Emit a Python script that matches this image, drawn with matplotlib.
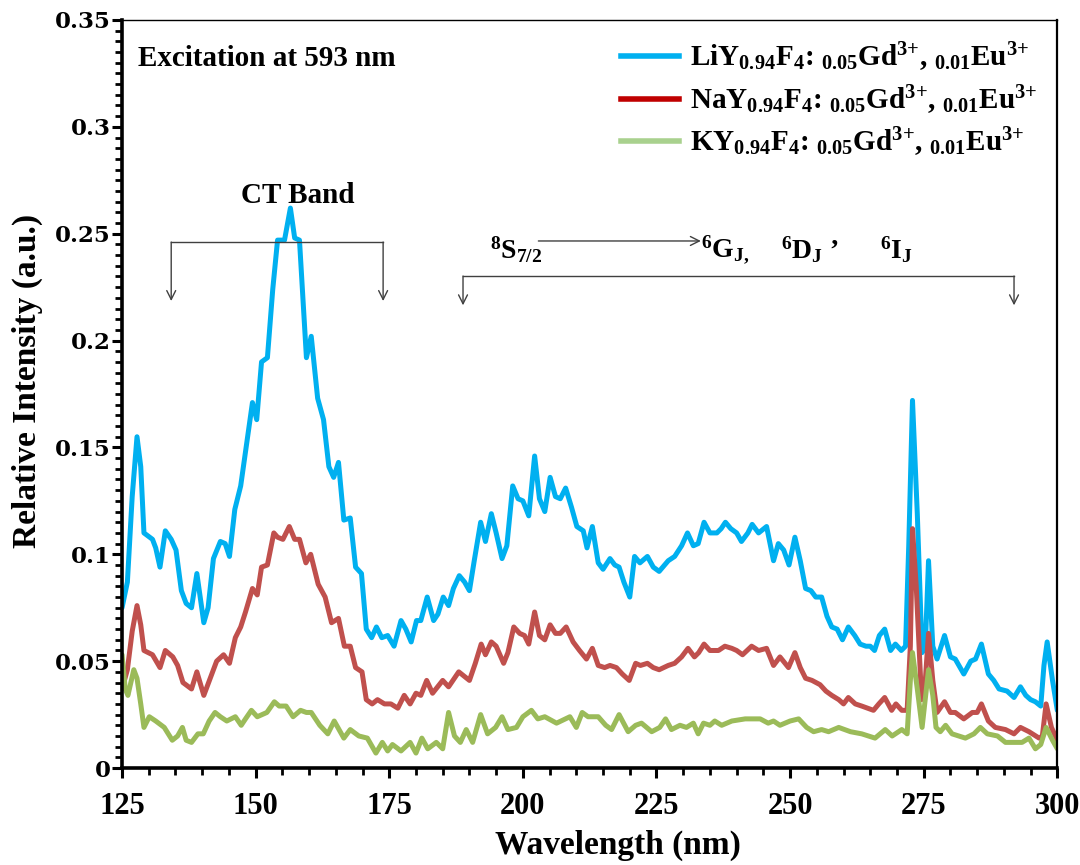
import matplotlib
matplotlib.use('Agg')
import matplotlib.pyplot as plt
from matplotlib.lines import Line2D
from matplotlib.ticker import MultipleLocator, FuncFormatter

plt.rcParams['font.family'] = 'Liberation Serif'
plt.rcParams['font.weight'] = 'bold'
plt.rcParams['mathtext.fontset'] = 'custom'
plt.rcParams['mathtext.rm'] = 'Liberation Serif:bold'
plt.rcParams['mathtext.it'] = 'Liberation Serif:bold'
plt.rcParams['mathtext.bf'] = 'Liberation Serif:bold'
plt.rcParams['mathtext.default'] = 'rm'

# LiYF4 host
wl_li = [125, 126, 126.9, 127.8, 128.5, 129.1, 130.7, 131.3, 132.1, 133.1, 134.2, 135.1, 136.1, 137, 138, 139,
         140.3, 141.1, 142.1, 143.4, 144.3, 145.1, 146.1, 147.2, 148.1, 149.4, 150.2, 151.1, 152.2, 153.2, 154.1,
         155.4, 156.5, 157.3, 158.2, 159.5, 160.4, 161.6, 162.7, 163.7, 164.6, 165.5, 166.5, 167.7, 168.7, 169.8,
         170.7, 171.7, 172.6, 173.6, 174.7, 175.9, 177.2, 178.1, 179.1, 180.1, 180.9, 182.1, 183.3, 184.1, 185.1,
         186.1, 187, 188.1, 189.1, 190, 190.9, 192.1, 193, 194.1, 195, 196.1, 197, 198.1, 199.1, 200, 201.1, 202.2,
         203.1, 204.1, 205.1, 206.1, 207, 208, 209.1, 210.1, 211.3, 212, 213, 214.1, 215, 216.3, 217.2, 218, 218.9,
         220, 220.9, 221.9, 223.3, 224.4, 225.5, 227.2, 228.4, 229.7, 230.8, 231.9, 232.8, 233.9, 235, 236.3, 237.1,
         237.9, 238.9, 240, 240.9, 242.1, 242.9, 244.1, 245.6, 246.9, 247.8, 248.8, 249.8, 250.9, 251.9, 252.9,
         253.9, 254.8, 255.9, 256.9, 257.8, 258.8, 259.8, 260.9, 262.1, 263.1, 264.2, 265, 265.8, 266.7, 267.7,
         268.8, 269.7, 270.8, 271.6, 272.2, 272.9, 273.8, 274.7, 275.3, 275.9, 276.7, 277.5, 278.9, 280, 280.9,
         282.5, 283.8, 284.7, 285.8, 287.1, 288.1, 289.1, 290.6, 291.9, 293.1, 294.1, 295, 295.9, 296.9, 297.5,
         298.1, 299.1, 300]
int_li = [0.075, 0.087, 0.127, 0.155, 0.141, 0.110, 0.107, 0.103, 0.094, 0.111, 0.107, 0.102, 0.083, 0.077, 0.075,
          0.091, 0.068, 0.075, 0.098, 0.106, 0.105, 0.099, 0.121, 0.132, 0.148, 0.171, 0.163, 0.190, 0.192, 0.224,
          0.247, 0.247, 0.262, 0.248, 0.247, 0.192, 0.202, 0.173, 0.163, 0.141, 0.136, 0.143, 0.116, 0.117, 0.094,
          0.091, 0.065, 0.061, 0.066, 0.061, 0.062, 0.057, 0.069, 0.065, 0.059, 0.069, 0.069, 0.080, 0.069, 0.072,
          0.080, 0.076, 0.084, 0.090, 0.087, 0.083, 0.097, 0.115, 0.106, 0.119, 0.110, 0.098, 0.104, 0.132, 0.126,
          0.125, 0.118, 0.146, 0.126, 0.120, 0.136, 0.127, 0.126, 0.131, 0.122, 0.113, 0.111, 0.103, 0.113, 0.096,
          0.093, 0.098, 0.095, 0.094, 0.087, 0.080, 0.099, 0.096, 0.099, 0.094, 0.092, 0.097, 0.099, 0.104, 0.110,
          0.104, 0.105, 0.115, 0.110, 0.110, 0.112, 0.115, 0.112, 0.110, 0.106, 0.110, 0.114, 0.110, 0.113, 0.097,
          0.105, 0.102, 0.095, 0.108, 0.097, 0.084, 0.083, 0.080, 0.080, 0.071, 0.066, 0.065, 0.060, 0.066, 0.062,
          0.058, 0.057, 0.057, 0.055, 0.062, 0.065, 0.055, 0.058, 0.055, 0.057, 0.104, 0.172, 0.119, 0.054, 0.057,
          0.097, 0.057, 0.051, 0.062, 0.052, 0.051, 0.044, 0.050, 0.051, 0.058, 0.044, 0.041, 0.037, 0.036, 0.033,
          0.038, 0.034, 0.032, 0.031, 0.029, 0.048, 0.059, 0.041, 0.027]

# NaYF4 host
wl_na = [125, 126, 126.9, 127.8, 128.5, 129.1, 130.7, 132.1, 133.1, 134.5, 135.4, 136.4, 138, 139, 140.3, 141.5,
         142.7, 144, 145.1, 146.2, 147.2, 148.1, 149.4, 150.3, 151.1, 152.2, 153.4, 154.1, 155.1, 156.3, 157.3,
         158.2, 159.4, 160.3, 161.7, 163, 164.2, 165.5, 166.6, 167.7, 168.7, 169.9, 170.7, 171.8, 172.8, 174.1,
         175.3, 176.6, 177.8, 178.9, 180, 180.9, 182, 183.1, 185, 186.1, 188, 190, 191.1, 192.2, 193, 194.1, 195,
         196.4, 197.2, 198.3, 199.4, 200.3, 201.1, 202.2, 203.1, 204.1, 205.1, 206.1, 207, 208.1, 209.4, 210.6,
         211.9, 213, 214.1, 215.3, 216.3, 217.5, 218.6, 219.9, 221.1, 222, 223.3, 224.4, 225.5, 227.2, 228.4, 229.7,
         230.9, 232.1, 232.9, 233.9, 235, 236.6, 237.8, 239.1, 240, 241.1, 242.8, 244.1, 245.6, 246.9, 248.1, 249.7,
         250.9, 251.9, 252.9, 254.1, 255.6, 256.7, 257.8, 259.1, 260, 260.9, 262.2, 263.4, 265.6, 266.6, 267.7, 269,
         269.8, 270.9, 271.9, 272.5, 272.9, 273.6, 274.6, 275.3, 275.9, 276.7, 277.5, 278.9, 280, 280.9, 282.5,
         284.1, 285, 285.8, 287.1, 288.4, 290.3, 291.9, 293.1, 294.7, 296.6, 297.2, 297.9, 298.9, 300]
int_na = [0.037, 0.046, 0.064, 0.076, 0.067, 0.055, 0.053, 0.047, 0.055, 0.052, 0.048, 0.040, 0.037, 0.045, 0.034,
          0.042, 0.050, 0.053, 0.049, 0.061, 0.066, 0.073, 0.084, 0.081, 0.094, 0.095, 0.110, 0.108, 0.107, 0.113,
          0.107, 0.107, 0.096, 0.100, 0.086, 0.080, 0.068, 0.070, 0.057, 0.057, 0.047, 0.045, 0.032, 0.030, 0.032,
          0.030, 0.030, 0.028, 0.034, 0.030, 0.035, 0.034, 0.041, 0.035, 0.041, 0.038, 0.045, 0.041, 0.049, 0.058,
          0.053, 0.059, 0.057, 0.049, 0.054, 0.066, 0.063, 0.062, 0.058, 0.073, 0.062, 0.060, 0.067, 0.063, 0.063,
          0.066, 0.059, 0.055, 0.051, 0.056, 0.048, 0.047, 0.048, 0.047, 0.044, 0.041, 0.049, 0.048, 0.049, 0.047,
          0.046, 0.048, 0.049, 0.052, 0.056, 0.052, 0.054, 0.058, 0.055, 0.055, 0.057, 0.056, 0.055, 0.053, 0.057,
          0.055, 0.056, 0.048, 0.052, 0.047, 0.054, 0.047, 0.042, 0.041, 0.039, 0.036, 0.034, 0.032, 0.030, 0.033,
          0.030, 0.029, 0.027, 0.030, 0.033, 0.027, 0.030, 0.027, 0.027, 0.057, 0.112, 0.085, 0.032, 0.041, 0.063,
          0.041, 0.026, 0.031, 0.026, 0.026, 0.023, 0.026, 0.026, 0.030, 0.022, 0.019, 0.018, 0.016, 0.019, 0.017,
          0.014, 0.015, 0.030, 0.019, 0.013]

# KYF4 host
wl_k = [125, 125.6, 126.1, 127.2, 127.8, 128.5, 129.1, 130.1, 131.3, 132.9, 134.4, 135.4, 136.3, 137, 138, 139.2,
        140.2, 141.3, 142.4, 143.4, 144.6, 146.2, 147.3, 148.1, 149.2, 150.3, 152.1, 153.5, 154.4, 155.7, 157, 158.4,
        159.5, 160.4, 162, 163.5, 164.7, 166.5, 167.7, 169.3, 170.9, 172.5, 173.7, 174.7, 175.6, 177.2, 178.9, 180,
        181.1, 182.2, 183.8, 185, 186.1, 187.2, 188.3, 189.4, 190.6, 192.1, 193.4, 194.9, 196.1, 197.2, 198.8, 200,
        201.6, 202.8, 204.1, 206.3, 208.8, 210, 211.1, 212.2, 214.1, 215.5, 216.6, 218, 219.7, 221.1, 222.2, 224.1,
        225.6, 226.7, 227.8, 229.4, 230.6, 231.9, 232.8, 233.8, 235, 235.9, 237.2, 239.1, 241.6, 244.4, 245.9,
        246.9, 248.1, 250, 251.6, 253.1, 254.4, 255.9, 257.2, 259.1, 261.3, 263.4, 265.9, 267.8, 269.1, 270.9,
        271.9, 272.5, 272.9, 273.8, 274.7, 275.9, 276.7, 277.3, 278.1, 279.1, 280.3, 282.8, 284.4, 285.6, 286.9,
        288.8, 290.3, 292.2, 293.4, 294.7, 295.9, 296.9, 297.9, 299.1, 300]
int_k = [0.053, 0.037, 0.034, 0.046, 0.042, 0.030, 0.019, 0.024, 0.022, 0.019, 0.013, 0.015, 0.019, 0.013, 0.012,
         0.016, 0.016, 0.022, 0.026, 0.024, 0.022, 0.024, 0.020, 0.023, 0.027, 0.024, 0.026, 0.031, 0.029, 0.029,
         0.024, 0.027, 0.026, 0.026, 0.020, 0.016, 0.022, 0.014, 0.018, 0.015, 0.014, 0.007, 0.012, 0.008, 0.011,
         0.008, 0.012, 0.007, 0.014, 0.009, 0.012, 0.009, 0.026, 0.015, 0.012, 0.018, 0.012, 0.025, 0.016, 0.019,
         0.024, 0.018, 0.019, 0.024, 0.027, 0.023, 0.024, 0.021, 0.024, 0.019, 0.026, 0.024, 0.024, 0.020, 0.018,
         0.025, 0.017, 0.020, 0.021, 0.017, 0.019, 0.023, 0.018, 0.020, 0.019, 0.021, 0.016, 0.021, 0.020, 0.022,
         0.020, 0.022, 0.023, 0.023, 0.021, 0.022, 0.020, 0.022, 0.023, 0.019, 0.017, 0.018, 0.017, 0.019, 0.017,
         0.016, 0.014, 0.018, 0.015, 0.018, 0.016, 0.041, 0.054, 0.037, 0.019, 0.046, 0.034, 0.019, 0.017, 0.020,
         0.016, 0.014, 0.016, 0.019, 0.016, 0.015, 0.012, 0.012, 0.012, 0.014, 0.009, 0.011, 0.019, 0.013, 0.009]

labels = [r'LiY$_{0.94}$F$_4$: $_{0.05}$Gd$^{3{+}}$, $_{0.01}$Eu$^{3{+}}$',
          r'NaY$_{0.94}$F$_4$: $_{0.05}$Gd$^{3{+}}$, $_{0.01}$Eu$^{3{+}}$',
          r'KY$_{0.94}$F$_4$: $_{0.05}$Gd$^{3{+}}$, $_{0.01}$Eu$^{3{+}}$']
line_colors = ['#00B0F0', '#C0504D', '#9BBB59']
legend_colors = ['#00B0F0', '#C00000', '#A9D18E']

fig = plt.figure(figsize=(10.8, 8.65), dpi=100)
ax = fig.add_axes([0.113, 0.1121, 0.866, 0.8648])

for wl, it, c in zip([wl_li, wl_na, wl_k], [int_li, int_na, int_k], line_colors):
    ax.plot(wl, it, color=c, lw=3.6, solid_joinstyle='round', solid_capstyle='round')

ax.set_xlim(125, 300)
ax.set_ylim(0, 0.35)
ax.xaxis.set_major_locator(MultipleLocator(25))
ax.xaxis.set_minor_locator(MultipleLocator(5))
ax.yaxis.set_major_locator(MultipleLocator(0.05))
ax.yaxis.set_minor_locator(MultipleLocator(0.005))
ax.yaxis.set_major_formatter(FuncFormatter(lambda v, p: '%g' % round(v, 3)))

ax.tick_params(axis='both', which='both', direction='out', color='black')
ax.tick_params(axis='both', which='major', length=7, width=2.2)
ax.tick_params(axis='both', which='minor', length=5, width=2.0)
ax.tick_params(axis='x', which='major', pad=10, labelsize=22)
ax.tick_params(axis='y', which='major', pad=1)
for lab in ax.get_yticklabels():
    lab.set_fontfamily('DejaVu Serif')
    lab.set_fontweight('bold')
    lab.set_fontsize(16.5)

ax.spines['left'].set_linewidth(2.6)
ax.spines['bottom'].set_linewidth(2.6)
ax.spines['right'].set_linewidth(1.6)
ax.spines['top'].set_linewidth(1.0)

ax.set_xlabel('Wavelength (nm)', fontsize=24, fontweight='bold')
ax.set_ylabel('Relative Intensity (a.u.)', fontsize=24, fontweight='bold')
ax.xaxis.set_label_coords(0.530, -0.103)
ax.yaxis.set_label_coords(-0.1016, 0.517)
ax.xaxis.label.set_va('center')
ax.yaxis.label.set_va('center')

handles = [Line2D([], [], color=c, lw=4) for c in legend_colors]
ax.legend(handles, labels, loc='upper right', bbox_to_anchor=(1.0, 1.0), frameon=False,
          fontsize=21, handlelength=2.0, handletextpad=0.35, labelspacing=0.32, borderaxespad=0.3)

ax.text(128.0, 0.332, 'Excitation at 593 nm', fontsize=21, fontweight='bold', va='center', ha='left')
ax.text(157.8, 0.268, 'CT Band', fontsize=21, fontweight='bold', va='center', ha='center')

# bracket spanning the charge-transfer band
br = dict(color='#404040', lw=1.0)
arr = dict(arrowstyle='->', color='#404040', lw=1.0, mutation_scale=16, shrinkA=0, shrinkB=0)
ax.plot([134.2, 173.85], [0.2461, 0.2461], **br)
for xb in (134.2, 173.85):
    ax.annotate('', xy=(xb, 0.2185), xytext=(xb, 0.2461), arrowprops=arr)

# bracket spanning the Gd3+ f-f transitions
ax.plot([188.8, 291.9], [0.2302, 0.2302], **br)
for xb in (188.8, 291.9):
    ax.annotate('', xy=(xb, 0.2165), xytext=(xb, 0.2302), arrowprops=arr)
ax.annotate('', xy=(233.3, 0.2466), xytext=(202.9, 0.2466), arrowprops=arr)

ax.text(193.8, 0.2425, r'$^{8}$S$_{7/2}$', fontsize=20, fontweight='bold', va='center', ha='left')
ax.text(233.4, 0.2425, r'$^{6}$G$_{J,}$', fontsize=20, fontweight='bold', va='center', ha='left')
ax.text(248.3, 0.2425, r'$^{6}$D$_{J}$ ’', fontsize=20, fontweight='bold', va='center', ha='left')
ax.text(266.9, 0.2425, r'$^{6}$I$_{J}$', fontsize=20, fontweight='bold', va='center', ha='left')

fig.savefig('out.png', dpi=100)
